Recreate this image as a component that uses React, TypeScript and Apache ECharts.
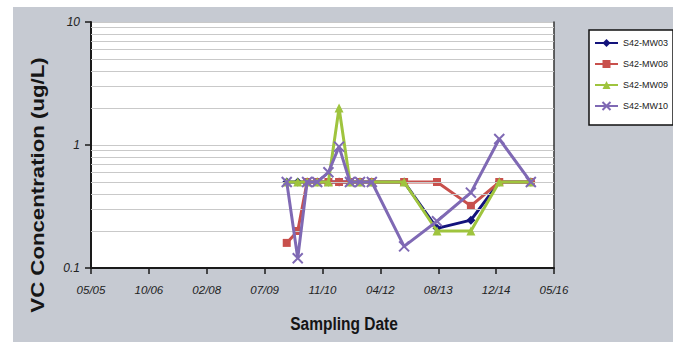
import React, { useEffect, useRef } from 'react';
import * as echarts from 'echarts';

// ---- data ----
const sampleDates = [
  '2010-01-15', '2010-04-20', '2010-07-10', '2010-10-05', '2011-01-10', '2011-04-12', '2011-07-15',
  '2011-10-10', '2012-01-20', '2012-10-25', '2013-08-05', '2014-05-25', '2015-01-25', '2015-10-25',
];
const mw03 = [0.5, 0.5, 0.5, 0.5, 0.5, 0.5, 0.5, 0.5, 0.5, 0.5, 0.21, 0.245, 0.5, 0.5];
const mw08 = [0.16, 0.2, 0.5, 0.5, 0.5, 0.5, 0.5, 0.5, 0.5, 0.5, 0.5, 0.32, 0.5, 0.5];
const mw09 = [0.5, 0.5, 0.5, 0.5, 0.5, 2.0, 0.5, 0.5, 0.5, 0.5, 0.2, 0.2, 0.5, 0.5];
const mw10 = [0.5, 0.12, 0.5, 0.5, 0.6, 0.97, 0.5, 0.5, 0.5, 0.15, 0.24, 0.41, 1.12, 0.5];
const seriesNames = ['S42-MW03', 'S42-MW08', 'S42-MW09', 'S42-MW10'];
const axisStartDate = '2005-05-30';
const xTickIntervalDays = 500;
const xMaxDays = 4000;
const yMin = 0.1;
const yMax = 10;
const minorGridValues = [0.2, 0.3, 0.4, 0.5, 0.6, 0.7, 0.8, 0.9, 2, 3, 4, 5, 6, 7, 8, 9];

const DAY = 86400000;
const base = Date.parse(axisStartDate + 'T00:00:00Z');
const toDays = (d: string) => (Date.parse(d + 'T00:00:00Z') - base) / DAY;
const fmtDate = (v: number) => {
  const d = new Date(base + v * DAY);
  const m = String(d.getUTCMonth() + 1).padStart(2, '0');
  const y = String(d.getUTCFullYear() % 100).padStart(2, '0');
  return m + '/' + y;
};

const sans = "'Liberation Sans', Arial, sans-serif";
const X_PATH = 'path://M0,0L10,10M10,0L0,10';

export default function App() {
  const ref = useRef<HTMLDivElement>(null);
  useEffect(() => {
    if (!ref.current) return;
    const chart = echarts.init(ref.current, null, { renderer: 'svg' });
    const mk = (vals: number[]) => sampleDates.map((d, i) => [toDays(d), vals[i]]);
    const styles = [
      { data: mw03, color: '#13137c', symbol: 'diamond', size: 9 },
      { data: mw08, color: '#c8504c', symbol: 'rect', size: 8 },
      { data: mw09, color: '#9fc43e', symbol: 'triangle', size: 9 },
      { data: mw10, color: '#7f69b4', symbol: X_PATH, size: 10 },
    ];
    chart.setOption({
      animation: false,
      grid: {
        left: 91, right: 119, top: 22, bottom: 74,
        show: true, backgroundColor: '#ffffff', borderWidth: 0, borderColor: 'transparent',
        containLabel: false, outerBoundsMode: 'none',
      },
      legend: {
        data: seriesNames,
        orient: 'vertical',
        left: 589, top: 30,
        padding: [8, 5, 14, 5],
        itemWidth: 23, itemHeight: 10, itemGap: 11,
        backgroundColor: '#ffffff',
        borderColor: '#111', borderWidth: 1.5,
        textStyle: { fontFamily: sans, fontSize: 9, color: '#222', lineHeight: 10 },
      },
      xAxis: {
        type: 'value', min: 0, max: xMaxDays, interval: xTickIntervalDays,
        axisLine: { show: true, lineStyle: { color: '#1a1a1a', width: 2 } },
        axisTick: { show: true, length: 6, lineStyle: { color: '#1a1a1a', width: 1.5 } },
        splitLine: { show: false },
        axisLabel: {
          formatter: (v: number) => fmtDate(v), margin: 16,
          fontFamily: sans, fontStyle: 'italic', fontSize: 11.5, color: '#222',
        },
      },
      yAxis: [
        {
          type: 'log', logBase: 10, min: yMin, max: yMax,
          axisLine: { show: true, lineStyle: { color: '#1a1a1a', width: 2 } },
          axisTick: { show: true, length: 6, lineStyle: { color: '#1a1a1a', width: 1.5 } },
          splitLine: { show: true, lineStyle: { color: '#c9c9c9', width: 1 } },
          minorTick: { show: false }, minorSplitLine: { show: false },
          axisLabel: {
            formatter: (v: number) => (v < 1 ? v.toFixed(1) : String(Math.round(v))), margin: 11,
            fontFamily: sans, fontStyle: 'italic', fontSize: 12, color: '#222',
          },
        },
        {
          type: 'log', logBase: 10, min: yMin, max: yMax, position: 'right',
          axisLine: { show: true, lineStyle: { color: '#333', width: 1.5 } },
          axisTick: { show: false }, axisLabel: { show: false }, splitLine: { show: false },
        },
      ],
      graphic: [
        {
          type: 'text', x: 37, y: 185, rotation: Math.PI / 2, scaleX: 1.17,
          style: {
            text: 'VC Concentration (ug/L)', fontFamily: sans, fontWeight: 'bold', fontSize: 19,
            fill: '#151515', align: 'center', verticalAlign: 'middle',
          },
        },
        {
          type: 'text', x: 344, y: 324, scaleY: 1.16,
          style: {
            text: 'Sampling Date', fontFamily: sans, fontWeight: 'bold', fontSize: 15.5,
            fill: '#151515', align: 'center', verticalAlign: 'middle',
          },
        },
      ],
      series: [
        {
          name: '__grid', type: 'line', data: [], z: 1, silent: true,
          markLine: {
            silent: true, symbol: 'none', animation: false, label: { show: false },
            lineStyle: { color: '#c9c9c9', width: 1, type: 'solid' },
            data: minorGridValues.map((v) => ({ yAxis: v })),
          },
        },
        ...styles.map((s, i) => ({
          name: seriesNames[i],
          type: 'line',
          data: mk(s.data),
          z: 3 + i,
          symbol: s.symbol,
          symbolSize: s.size,
          showSymbol: true,
          lineStyle: { color: s.color, width: 3 },
          itemStyle: { color: s.color, borderColor: s.color, borderWidth: s.symbol === X_PATH ? 2 : 0 },
        })),
      ],
    });
    return () => chart.dispose();
  }, []);
  return (
    <div style={{ position: 'fixed', left: 0, top: 0, width: 673, height: 342, background: '#ffffff' }}>
      <div style={{ position: 'absolute', left: 13, top: 7, width: 660, height: 335, background: '#c6cad2' }} />
      <div ref={ref} style={{ position: 'absolute', left: 0, top: 0, width: 673, height: 342 }} />
    </div>
  );
}
